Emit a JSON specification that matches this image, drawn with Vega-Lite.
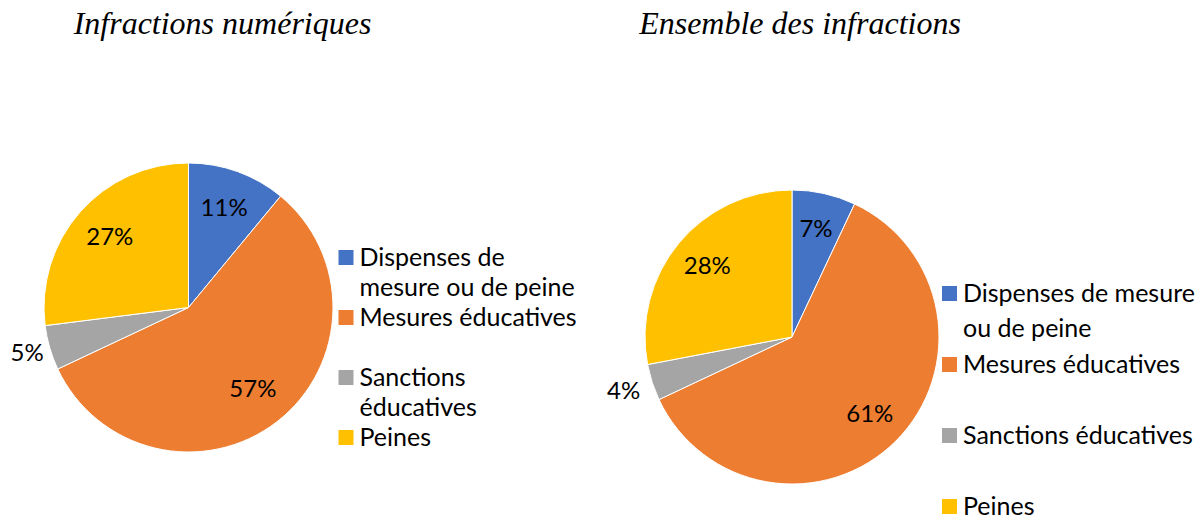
{
  "$schema": "https://vega.github.io/schema/vega-lite/v6.json",
  "padding": {"left": 10, "top": 8, "right": 0, "bottom": 0},
  "background": "white",
  "bounds": "flush",
  "spacing": 312,
  "config": {
    "view": {"stroke": null},
    "title": {"font": "Liberation Serif", "fontStyle": "italic", "fontWeight": "normal", "fontSize": 32, "color": "black"},
    "legend": {"padding": 0}
  },
  "datasets": {
    "numeriques": [
      {"categorie": "Dispenses de mesure ou de peine", "rang": 1, "valeur": 11, "etiquette": "11%"},
      {"categorie": "Mesures éducatives", "rang": 2, "valeur": 57, "etiquette": "57%"},
      {"categorie": "Sanctions éducatives", "rang": 3, "valeur": 5, "etiquette": "5%"},
      {"categorie": "Peines", "rang": 4, "valeur": 27, "etiquette": "27%"}
    ],
    "ensemble": [
      {"categorie": "Dispenses de mesure ou de peine", "rang": 1, "valeur": 7, "etiquette": "7%"},
      {"categorie": "Mesures éducatives", "rang": 2, "valeur": 61, "etiquette": "61%"},
      {"categorie": "Sanctions éducatives", "rang": 3, "valeur": 4, "etiquette": "4%"},
      {"categorie": "Peines", "rang": 4, "valeur": 28, "etiquette": "28%"}
    ]
  },
  "hconcat": [
    {
      "width": 289,
      "height": 289,
      "title": {"text": "Infractions numériques", "anchor": "middle", "frame": "group", "dx": 34, "offset": 96},
      "data": {"name": "numeriques"},
      "encoding": {
        "theta": {"field": "valeur", "type": "quantitative", "stack": true},
        "order": {"field": "rang", "type": "quantitative"}
      },
      "layer": [
        {
          "mark": {"type": "arc", "outerRadius": 144.5, "stroke": "white", "strokeWidth": 1},
          "encoding": {
            "color": {
              "field": "categorie", "type": "nominal",
              "scale": {"domain": ["Dispenses de mesure ou de peine", "Mesures éducatives", "Sanctions éducatives", "Peines"], "range": ["#4472C4", "#ED7D31", "#A5A5A5", "#FFC000"]},
              "legend": {
                "title": null, "orient": "none", "legendX": 289.5, "legendY": 82,
                "symbolType": "square", "symbolSize": 225, "symbolStrokeWidth": 0, "symbolOffset": 0,
                "labelFont": "Lato", "labelFontSize": 25, "labelColor": "black", "labelOffset": 1, "labelLimit": 500,
                "rowPadding": 4,
                "labelExpr": "datum.value == 'Dispenses de mesure ou de peine' ? ['Dispenses de', 'mesure ou de peine'] : datum.value == 'Mesures éducatives' ? ['Mesures éducatives', ''] : datum.value == 'Sanctions éducatives' ? ['Sanctions', 'éducatives'] : ['Peines', '']",
                "encoding": {"labels": {"lineHeight": {"value": 30}}}
              }
            }
          }
        },
        {
          "mark": {"type": "text", "radius": 105, "font": "Lato", "fontSize": 24},
          "encoding": {
            "detail": {"field": "categorie", "type": "nominal"},
            "color": {"value": "black"},
            "text": {"condition": {"test": "datum.rang != 3", "field": "etiquette"}, "value": ""}
          }
        },
        {
          "mark": {"type": "text", "radius": 168, "font": "Lato", "fontSize": 24},
          "encoding": {
            "detail": {"field": "categorie", "type": "nominal"},
            "color": {"value": "black"},
            "text": {"condition": {"test": "datum.rang == 3", "field": "etiquette"}, "value": ""}
          }
        }
      ]
    },
    {
      "width": 294,
      "height": 348,
      "title": {"text": "Ensemble des infractions", "anchor": "middle", "frame": "group", "dx": 8, "offset": 111},
      "data": {"name": "ensemble"},
      "encoding": {
        "theta": {"field": "valeur", "type": "quantitative", "stack": true},
        "order": {"field": "rang", "type": "quantitative"}
      },
      "layer": [
        {
          "mark": {"type": "arc", "outerRadius": 147, "stroke": "white", "strokeWidth": 1},
          "encoding": {
            "color": {
              "field": "categorie", "type": "nominal",
              "scale": {"domain": ["Dispenses de mesure ou de peine", "Mesures éducatives", "Sanctions éducatives", "Peines"], "range": ["#4472C4", "#ED7D31", "#A5A5A5", "#FFC000"]},
              "legend": {
                "title": null, "orient": "none", "legendX": 292, "legendY": 118,
                "symbolType": "square", "symbolSize": 225, "symbolStrokeWidth": 0, "symbolOffset": 0,
                "labelFont": "Lato", "labelFontSize": 25, "labelColor": "black", "labelOffset": 1, "labelLimit": 500,
                "rowPadding": 10,
                "labelExpr": "datum.value == 'Dispenses de mesure ou de peine' ? ['Dispenses de mesure', 'ou de peine'] : [datum.value, '']",
                "encoding": {"labels": {"lineHeight": {"value": 35}}}
              }
            }
          }
        },
        {
          "mark": {"type": "text", "radius": 110, "font": "Lato", "fontSize": 24},
          "encoding": {
            "detail": {"field": "categorie", "type": "nominal"},
            "color": {"value": "black"},
            "text": {"condition": {"test": "datum.rang != 3", "field": "etiquette"}, "value": ""}
          }
        },
        {
          "mark": {"type": "text", "radius": 177, "font": "Lato", "fontSize": 24},
          "encoding": {
            "detail": {"field": "categorie", "type": "nominal"},
            "color": {"value": "black"},
            "text": {"condition": {"test": "datum.rang == 3", "field": "etiquette"}, "value": ""}
          }
        }
      ]
    }
  ],
  "resolve": {"scale": {"color": "independent"}, "legend": {"color": "independent"}}
}
